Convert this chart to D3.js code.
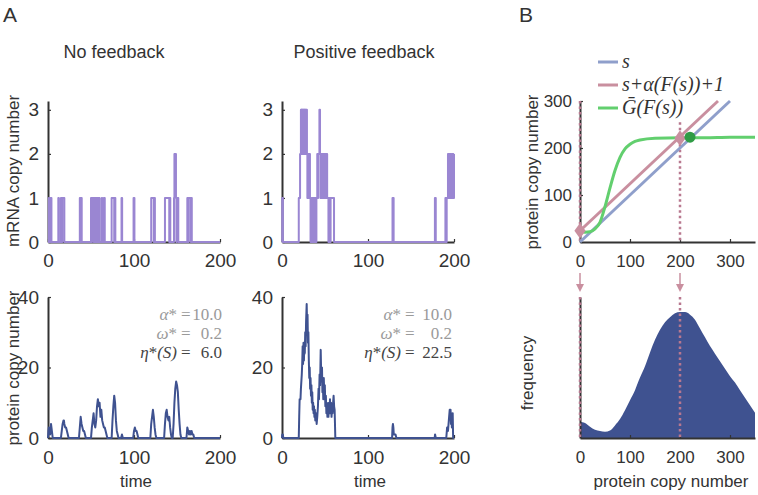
<!DOCTYPE html>
<html>
<head>
<meta charset="utf-8">
<script src="https://cdn.jsdelivr.net/npm/d3@7"></script>
<style>
  body { margin: 0; background: #fff; }
  text { font-family: "Liberation Sans", Arial, sans-serif; fill: #333; }
  .serif { font-family: "Liberation Serif", "Times New Roman", serif; }
</style>
</head>
<body>
<svg id="fig" width="758" height="495"></svg>
<script>
// ---- panel A: time series, [time, count] ----
const mrnaNoFb = [[0,0],[1,1],[1.6,0],[3,1],[4,0],[12,1],[12.6,0],[15,1],[16,0],[16.6,1],[19,0],
  [37,1],[38,0],[38.5,1],[39.2,0],[50,1],[50.5,0],[51,1],[53,0],[53.5,1],[54,0],[54.5,1],[56,0],
  [56.5,1],[57.2,0],[57.8,1],[58.5,0],[59,1],[60,0],[62.5,1],[63,0],[65,1],[66,0],[74,1],[77,0],
  [77.5,1],[78.3,0],[85.5,1],[86.2,0],[99.5,1],[100.5,0],[120,1],[123,0],[123.5,1],[124.3,0],
  [136,1],[141,0],[141.5,1],[142.2,0],[146.5,1],[147,2],[148.8,1],[149.3,0],[149.7,1],[151.5,0],
  [162,1],[162.6,0],[163.5,1],[166,0],[166.6,1],[167.2,0],[200,0]]

const mrnaPosFb = [[0,0],[0.3,1],[1,0],[19.5,1],[21,2],[22,3],[22.3,2],[22.6,3],[23,2],[23.3,3],
  [23.8,2],[24.2,3],[24.6,2],[25,3],[25.4,2],[25.8,3],[26.2,2],[26.6,3],[27,2],[27.4,3],[28,2],
  [28.6,3],[29,2],[29.5,1],[30,2],[31,1],[31.5,2],[32.5,1],[33.2,0],[33.6,1],[34,0],[35,1],
  [35.4,0],[36,1],[36.5,0],[37.4,1],[38,0],[38.5,1],[39.5,0],[40,1],[41,2],[41.5,1],[42,2],
  [43.5,3],[44.2,2],[44.7,1],[45.5,2],[46,1],[47,2],[47.5,1],[48.5,2],[49,1],[49.6,2],[50.2,1],
  [51,2],[51.5,1],[52,2],[52.5,1],[54,0],[54.3,1],[55,0],[55.5,1],[56,0],[56.5,1],[60.5,0],
  [128.5,1],[129.8,0],[177.8,1],[178.8,0],[190,1],[191,0],[191.5,1],[193,2],[193.5,1],[194.5,2],
  [195,1],[196,2],[196.5,1],[197.5,2],[198,1],[198.6,2],[199.2,1],[200,2]]

const protNoFb = [[0,0],[0.5,2],[1,3],[1.5,2],[2,2],[2.5,1],[3,2],[3.5,4],[4,3],[4.5,2],[5,1],[5.5,0],
  [15,0],[16,2],[17,4],[18,5],[18.5,5],[19,4],[20,3],[21,3],[22,2],[23,1],[24,0],
  [36,0],[37,3],[38,6],[39,4],[40,3],[41,2],[42,2],[43,1],[44,0],
  [50,0],[51,3],[52,5],[53,7],[54,4],[55,3],[56,5],[57,9],[58,11],[59,9],[60,10],[61,6],[62,8],
  [63,5],[64,4],[65,3],[66,3],[67,2],[68,1],[69,0],
  [74,0],[75,5],[76,9],[77,12],[78,10],[79,5],[80,2],[81,1],[82,0],[85,0],[86,1],[87,0],
  [99,0],[100,2],[101,3],[102,2],[103,2],[104,1],[105,0],
  [119,0],[120,4],[121,6],[122,8],[123,6],[124,3],[125,1],[126,0],
  [135,0],[136,4],[137,7],[138,8],[139,6],[140,5],[141,6],[142,3],[143,1],[144,0],
  [145,0],[146,4],[147,10],[148,14],[149,16],[150,15],[151,13],[152,8],[153,4],[154,1],[155,0],
  [161,0],[162,3],[163,2],[164,1],[165,2],[166,1],[167,2],[168,1],[169,1],[170,0],[200,0]]

const protPosFb = [[0,0],[0.3,1],[1,1],[1.5,0],[19.5,0],[20,6],[20.5,11],[21.5,11],[22,14],[23,18],
  [23.5,21],[24,26],[24.5,21],[25,27],[25.5,22],[26,27],[26.5,24],[27,30],[27.5,26],[28,33],
  [28.7,38],[29.2,32],[29.7,35],[30.2,27],[30.7,30],[31.2,22],[31.7,17],[32.2,20],[32.7,14],
  [33.2,17],[33.7,12],[34.2,15],[34.7,10],[35.2,13],[35.7,8],[36.2,10],[36.7,7],[37.2,9],
  [37.7,6],[38.2,8],[38.7,5],[39.5,7],[40.3,4],[41,6],[41.8,9],[42.5,14],[43,11],[43.7,18],
  [44.3,15],[45,25],[45.5,19],[46,16],[46.5,20],[47,13],[47.5,16],[48,11],[48.6,17],[49.2,12],
  [49.8,15],[50.4,9],[51,12],[51.6,7],[52.2,10],[52.8,6],[53.4,9],[54,6],[54.6,10],[55.2,7],
  [55.8,11],[56.4,7],[57,10],[57.6,6],[58.2,9],[58.8,7],[59.4,10],[60,12],[60.6,9],[61.2,8],
  [62,0],[128,0],[128.5,3],[129,4],[129.5,3],[130,1],[131,1],[132,1],[133,0],[177.5,0],[178,1],
  [178.8,0],[191,0],[192,3],[193,2],[194,5],[195,8],[195.5,6],[196,8],[196.5,4],[197,7],
  [197.5,3],[198,6],[198.5,7],[199,0],[200,0]]

const timeTicks = [0, 100, 200]
const mrnaTicks = [0, 1, 2, 3]
const protTicks = [0, 20, 40]
const noFbParams = [['α', '*', '', '10.0'], ['ω', '*', '', '0.2'], ['η', '*', '(S)', '6.0']]
const posFbParams = [['α', '*', '', '10.0'], ['ω', '*', '', '0.2'], ['η', '*', '(S)', '22.5']]

// ---- panel B ----
const sLine = [[0,0],[300,300]]
const pinkLine = [[0,24],[276,300]]
const greenS = [0,10,20,30,40,50,60,70,80,90,100,110,120,150,200,250,300,350]
const greenG = [22,21,22,28,42,75,115,152,180,198,208,214,217,221,222,222,223,223]
const fixedPoints = [[0,24],[200,221]]
const stablePoint = [[220,223]]
const modes = [0, 200]
const histS = d3.range(0, 351, 10)
const histFreq = [0.13,0.12,0.09,0.065,0.055,0.05,0.06,0.1,0.15,0.22,0.3,0.38,0.48,0.57,0.68,
  0.78,0.86,0.92,0.96,0.99,1.0,1.0,0.98,0.94,0.87,0.8,0.73,0.67,0.61,0.55,0.49,0.44,0.38,0.32,0.26,0.2]
const sTicks = [0, 100, 200, 300]
const bTopTicks = [0, 100, 200, 300]

const purple = '#9a86d2'
const navy = '#3f5290'
const lineBlue = '#8f9fcb'
const pink = '#c98f9f'
const dotPink = '#b8788f'
const green = '#62cf6e'

const svg = d3.select('#fig')

const xA1 = d3.scaleLinear().domain([0, 200]).range([48, 220])
const xA2 = d3.scaleLinear().domain([0, 200]).range([282, 454])
const yMrna = d3.scaleLinear().domain([0, 3.2]).range([242, 101])
const yProt = d3.scaleLinear().domain([0, 40]).range([438, 297])
const xB = d3.scaleLinear().domain([0, 350]).range([580, 755])
const yBTop = d3.scaleLinear().domain([0, 300]).range([242, 101])
const yHist = d3.scaleLinear().domain([0, 1.12]).range([438, 297])

drawAxes = (x, y, xTicks, yTicks, fs, xPad, yPad) => {
  const xa = svg.append('g')
    .attr('transform', `translate(0,${y.range()[0]})`)
    .call(d3.axisBottom(x).tickValues(xTicks).tickFormat(d3.format('d'))
      .tickSizeInner(-3).tickSizeOuter(0).tickPadding(xPad))
  const ya = svg.append('g')
    .attr('transform', `translate(${x.range()[0]},0)`)
    .call(d3.axisLeft(y).tickValues(yTicks).tickFormat(d3.format('d'))
      .tickSizeInner(-3).tickSizeOuter(0).tickPadding(yPad))
  ;[xa, ya].forEach(a => {
    a.attr('font-family', null).attr('font-size', fs).attr('color', '#333')
    a.select('.domain').attr('stroke-width', 2)
    a.selectAll('.tick line').attr('stroke-width', 1.2)
  })
}

// panel A axes + traces
drawAxes(xA1, yMrna, timeTicks, mrnaTicks, 19, 12, 9)
drawAxes(xA2, yMrna, timeTicks, mrnaTicks, 19, 12, 9)
drawAxes(xA1, yProt, timeTicks, protTicks, 19, 13, 9)
drawAxes(xA2, yProt, timeTicks, protTicks, 19, 13, 9)

const traces = [
  [mrnaNoFb, xA1, yMrna, purple, true],
  [mrnaPosFb, xA2, yMrna, purple, true],
  [protNoFb, xA1, yProt, navy, false],
  [protPosFb, xA2, yProt, navy, false]
]
traces.forEach(([data, x, y, color, step]) => {
  const line = d3.line()
    .x(d => x(d[0]))
    .y(d => y(d[1]))
    .curve(step ? d3.curveStepAfter : d3.curveLinear)
  svg.append('path')
    .datum(data)
    .attr('d', line)
    .attr('fill', 'none')
    .attr('stroke', color)
    .attr('stroke-width', 2)
    .attr('stroke-linejoin', 'round')
})

// parameter annotations
const drawParams = (params, xEq, xEnd) => {
  params.forEach((p, i) => {
    const yy = 320 + i * 19
    const col = i < 2 ? '#9a9a9a' : '#444'
    const t = svg.append('text').attr('class', 'serif').attr('x', xEq - 4).attr('y', yy)
      .attr('text-anchor', 'end').attr('font-size', 17).style('fill', col)
    t.append('tspan').attr('font-style', 'italic').text(p[0])
    t.append('tspan').text(p[1])
    if (p[2]) t.append('tspan').attr('font-style', 'italic').text(p[2])
    svg.append('text').attr('class', 'serif').attr('x', xEq).attr('y', yy)
      .attr('font-size', 17).style('fill', col).text('=')
    svg.append('text').attr('class', 'serif').attr('x', xEnd).attr('y', yy)
      .attr('text-anchor', 'end').attr('font-size', 17).style('fill', col).text(p[3])
  })
}
drawParams(noFbParams, 181, 222)
drawParams(posFbParams, 405, 452)

// panel A labels
svg.append('text').attr('x', 3).attr('y', 22).attr('font-size', 21).text('A')
svg.append('text').attr('x', 114).attr('y', 58).attr('font-size', 18).attr('text-anchor', 'middle').text('No feedback')
svg.append('text').attr('x', 364).attr('y', 58).attr('font-size', 18).attr('text-anchor', 'middle').text('Positive feedback')
svg.append('text').attr('transform', 'translate(19,171) rotate(-90)').attr('font-size', 17)
  .attr('text-anchor', 'middle').text('mRNA copy number')
svg.append('text').attr('transform', 'translate(19,368) rotate(-90)').attr('font-size', 17)
  .attr('text-anchor', 'middle').text('protein copy number')
svg.append('text').attr('x', 136).attr('y', 487).attr('font-size', 17).attr('text-anchor', 'middle').text('time')
svg.append('text').attr('x', 370).attr('y', 487).attr('font-size', 17).attr('text-anchor', 'middle').text('time')

// panel B top
drawAxes(xB, yBTop, sTicks, bTopTicks, 17, 13, 8)

svg.append('line')
  .attr('x1', xB(modes[0])).attr('x2', xB(modes[0]))
  .attr('y1', yBTop(300)).attr('y2', yBTop(0))
  .attr('stroke', dotPink).attr('stroke-width', 2.5).attr('stroke-dasharray', '2.5,3')
svg.append('line')
  .attr('x1', xB(modes[1])).attr('x2', xB(modes[1]))
  .attr('y1', yBTop(255)).attr('y2', yBTop(0))
  .attr('stroke', dotPink).attr('stroke-width', 2.5).attr('stroke-dasharray', '2.5,3')

const lineB = d3.line().x(d => xB(d[0])).y(d => yBTop(d[1]))
svg.append('path').datum(sLine).attr('d', lineB).attr('fill', 'none')
  .attr('stroke', lineBlue).attr('stroke-width', 3)
svg.append('path').datum(pinkLine).attr('d', lineB).attr('fill', 'none')
  .attr('stroke', pink).attr('stroke-width', 3)
svg.append('path').datum(greenS.map((s, i) => [s, greenG[i]]))
  .attr('d', lineB.curve(d3.curveMonotoneX)).attr('fill', 'none')
  .attr('stroke', green).attr('stroke-width', 3)

svg.selectAll('.fixed')
  .data(fixedPoints)
  .enter()
  .append('path')
  .attr('d', d3.symbol(d3.symbolDiamond, 70))
  .attr('transform', d => `translate(${xB(d[0])},${yBTop(d[1])}) scale(1.25,1)`)
  .attr('fill', pink)
svg.selectAll('.stable')
  .data(stablePoint)
  .enter()
  .append('circle')
  .attr('cx', d => xB(d[0])).attr('cy', d => yBTop(d[1])).attr('r', 5.5)
  .attr('fill', '#2f9c45')

// legend
const legend = [['s', lineBlue], ['s+α(F(s))+1', pink], ['Ḡ(F(s))', green]]
legend.forEach(([label, color], i) => {
  const yy = 62 + i * 23
  svg.append('line').attr('x1', 598).attr('x2', 618).attr('y1', yy).attr('y2', yy)
    .attr('stroke', color).attr('stroke-width', 3)
  svg.append('text').attr('class', 'serif').attr('x', 622).attr('y', yy + 6)
    .attr('font-size', 20).attr('font-style', 'italic').style('fill', '#333').text(label)
})

svg.append('text').attr('x', 519).attr('y', 22).attr('font-size', 21).text('B')
svg.append('text').attr('transform', 'translate(538,172) rotate(-90)').attr('font-size', 17)
  .attr('text-anchor', 'middle').text('protein copy number')

// arrows between B panels
modes.forEach(m => {
  svg.append('line').attr('x1', xB(m)).attr('x2', xB(m)).attr('y1', 273).attr('y2', 286)
    .attr('stroke', pink).attr('stroke-width', 1.5)
  svg.append('path')
    .attr('d', `M${xB(m) - 4},284 L${xB(m) + 4},284 L${xB(m)},292 Z`)
    .attr('fill', pink)
})

// panel B bottom: histogram
const area = d3.area()
  .x(d => xB(d[0]))
  .y0(yHist(0))
  .y1(d => yHist(d[1]))
  .curve(d3.curveMonotoneX)
svg.append('path')
  .datum(histS.map((s, i) => [s, histFreq[i]]))
  .attr('d', area)
  .attr('fill', navy)

drawAxes(xB, yHist, sTicks, [], 17, 13, 8)

modes.forEach(m => {
  svg.append('line')
    .attr('x1', xB(m)).attr('x2', xB(m))
    .attr('y1', yHist(1.12)).attr('y2', yHist(0))
    .attr('stroke', dotPink).attr('stroke-width', 2.5).attr('stroke-dasharray', '2.5,3')
})

svg.append('text').attr('transform', 'translate(533,373) rotate(-90)').attr('font-size', 17)
  .attr('text-anchor', 'middle').text('frequency')
svg.append('text').attr('x', 671).attr('y', 487).attr('font-size', 17)
  .attr('text-anchor', 'middle').text('protein copy number')
</script>
</body>
</html>
